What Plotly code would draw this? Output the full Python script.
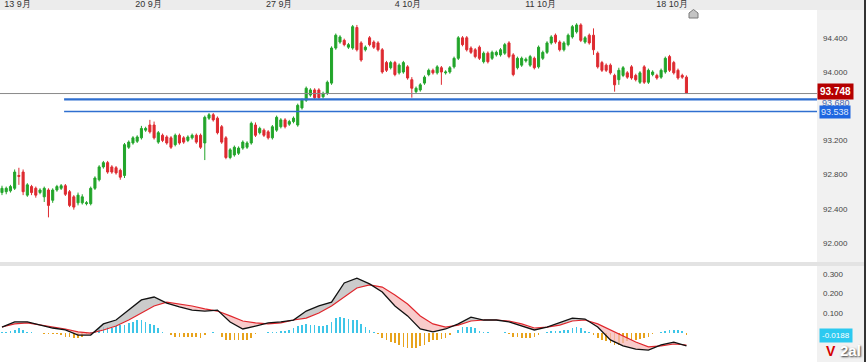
import plotly.graph_objects as go

# ---------------- data ----------------
OPEN = [92.59,92.60,92.61,92.64,92.79,92.83,92.56,92.66,92.64,92.59,92.54,92.62,92.50,92.62,92.64,92.67,92.60,92.54,92.47,92.47,
        92.46,92.46,92.64,92.74,92.89,92.94,92.89,92.88,92.85,92.79,93.12,93.17,93.19,93.23,93.32,93.38,93.38,93.18,93.26,93.24,
        93.23,93.15,93.26,93.23,93.20,93.23,93.26,93.26,93.17,93.46,93.50,93.46,93.36,93.23,93.00,93.03,93.05,93.11,93.12,93.17,
        93.38,93.29,93.32,93.30,93.23,93.32,93.36,93.44,93.39,93.42,93.38,93.58,93.67,93.73,93.79,93.79,93.71,93.75,93.87,94.28,
        94.35,94.37,94.29,94.28,94.52,94.34,94.26,94.40,94.35,94.34,94.26,94.11,94.05,94.11,93.99,94.00,94.06,93.91,93.77,93.79,
        93.87,93.97,94.02,93.99,94.05,93.99,94.00,94.06,94.16,94.40,94.40,94.28,94.26,94.29,94.12,94.22,94.16,94.20,94.20,94.22,
        94.34,94.20,94.05,94.08,94.13,94.08,94.16,94.06,94.16,94.23,94.34,94.43,94.35,94.26,94.32,94.41,94.47,94.55,94.35,94.43,
        94.43,94.22,94.11,94.08,94.08,93.96,93.91,93.96,93.99,94.06,93.96,93.88,94.06,93.88,93.97,93.96,93.94,94.00,94.18,94.11,
        94.02,93.96,93.94]
HIGH = [92.67,92.66,92.68,92.86,92.88,92.86,92.70,92.68,92.66,92.64,92.66,92.64,92.64,92.68,92.69,92.69,92.62,92.56,92.59,92.57,
        92.49,92.66,92.78,92.91,92.96,92.96,92.91,92.90,92.87,93.17,93.20,93.25,93.26,93.37,93.36,93.44,93.42,93.31,93.28,93.26,
        93.25,93.28,93.28,93.25,93.26,93.28,93.28,93.28,93.49,93.52,93.52,93.48,93.38,93.25,93.11,93.14,93.13,93.20,93.19,93.42,
        93.41,93.36,93.34,93.32,93.38,93.49,93.46,93.46,93.44,93.48,93.63,93.69,93.83,93.81,93.81,93.81,93.77,93.90,94.30,94.45,
        94.43,94.39,94.34,94.55,94.55,94.36,94.31,94.42,94.37,94.36,94.28,94.13,94.13,94.13,94.10,94.13,94.08,93.94,93.83,93.87,
        93.96,94.04,94.04,94.08,94.07,94.02,94.07,94.18,94.42,94.42,94.42,94.30,94.28,94.31,94.24,94.24,94.25,94.25,94.28,94.34,
        94.36,94.22,94.18,94.18,94.17,94.20,94.18,94.31,94.25,94.36,94.43,94.45,94.37,94.36,94.45,94.55,94.57,94.57,94.42,94.45,
        94.51,94.24,94.13,94.10,94.10,93.98,94.05,94.07,94.01,94.08,93.98,94.01,94.08,94.04,94.02,93.98,94.04,94.18,94.20,94.13,
        94.04,93.98,93.96]
LOW = [92.56,92.57,92.59,92.62,92.68,92.56,92.54,92.56,92.53,92.57,92.48,92.30,92.47,92.60,92.62,92.55,92.42,92.39,92.44,92.45,
       92.44,92.44,92.62,92.72,92.87,92.81,92.81,92.80,92.74,92.76,93.10,93.15,93.17,93.21,93.30,93.28,93.21,93.16,93.18,93.15,
       93.10,93.13,93.15,93.16,93.18,93.21,93.16,93.10,92.97,93.44,93.42,93.27,93.16,92.98,92.98,93.01,93.03,93.09,93.10,93.15,
       93.24,93.27,93.24,93.21,93.21,93.30,93.34,93.34,93.37,93.40,93.36,93.56,93.65,93.71,93.68,93.68,93.69,93.73,93.85,94.26,
       94.33,94.30,94.27,94.26,94.24,94.12,94.24,94.30,94.27,94.24,93.98,94.00,94.03,93.95,93.97,93.98,93.91,93.70,93.75,93.77,
       93.85,93.95,93.97,93.97,93.85,93.97,93.98,94.04,94.14,94.30,94.24,94.21,94.16,94.14,94.10,94.10,94.14,94.18,94.18,94.20,
       94.16,93.95,94.03,94.06,94.11,94.06,94.03,94.04,94.14,94.21,94.32,94.33,94.24,94.24,94.30,94.39,94.45,94.35,94.33,94.32,
       94.20,94.04,94.00,94.00,93.97,93.77,93.85,93.94,93.92,93.91,93.89,93.86,93.86,93.86,93.95,93.91,93.92,93.98,94.00,93.97,
       93.91,93.92,93.748]
CLOSE = [92.64,92.64,92.66,92.83,92.78,92.60,92.68,92.59,92.56,92.62,92.64,92.44,92.62,92.66,92.67,92.57,92.44,92.42,92.56,92.54,
         92.47,92.64,92.76,92.89,92.94,92.83,92.83,92.82,92.77,93.15,93.18,93.23,93.24,93.34,93.34,93.30,93.23,93.29,93.20,93.17,
         93.12,93.26,93.17,93.18,93.24,93.26,93.18,93.12,93.47,93.50,93.44,93.29,93.18,93.00,93.09,93.12,93.11,93.18,93.17,93.40,
         93.26,93.34,93.26,93.23,93.36,93.47,93.44,93.36,93.42,93.46,93.61,93.67,93.81,93.79,93.70,93.70,93.75,93.88,94.28,94.43,
         94.41,94.32,94.32,94.53,94.26,94.14,94.29,94.32,94.29,94.26,94.00,94.02,94.11,93.97,94.08,94.11,93.93,93.81,93.81,93.85,
         93.94,94.02,93.99,94.06,94.00,94.00,94.05,94.16,94.40,94.32,94.26,94.23,94.18,94.16,94.22,94.12,94.23,94.23,94.26,94.32,
         94.18,93.97,94.16,94.16,94.15,94.18,94.05,94.29,94.23,94.34,94.41,94.35,94.26,94.34,94.43,94.53,94.55,94.37,94.40,94.34,
         94.26,94.06,94.02,94.02,93.99,93.85,94.02,94.05,93.94,93.93,93.91,93.99,93.88,94.02,94.00,93.93,94.02,94.16,94.02,93.99,
         93.93,93.94,93.748]

# MACD (black) and signal (red) lines, read every third bar
LINE_IDX = list(range(0, 163, 3))
MACD = [0.028,0.054,0.054,0.038,0.023,0.013,-0.013,-0.013,0.044,0.064,0.115,0.167,0.182,0.151,0.131,0.115,0.110,0.115,0.054,0.018,
        0.033,0.049,0.054,0.064,0.110,0.136,0.156,0.254,0.279,0.249,0.208,0.136,0.085,0.018,0.003,0.018,0.044,0.079,0.064,0.064,
        0.054,0.033,0.013,0.028,0.049,0.074,0.069,0.028,-0.038,-0.069,-0.085,-0.090,-0.064,-0.049,-0.069]
SIGNAL = [0.028,0.044,0.049,0.038,0.028,0.018,0.003,-0.003,0.013,0.033,0.064,0.100,0.136,0.156,0.146,0.136,0.121,0.110,0.085,0.059,
          0.049,0.044,0.049,0.064,0.074,0.100,0.136,0.182,0.228,0.244,0.233,0.192,0.146,0.085,0.044,0.028,0.038,0.059,0.064,0.064,
          0.059,0.044,0.023,0.028,0.038,0.059,0.064,0.044,0.013,-0.018,-0.049,-0.074,-0.069,-0.059,-0.064]
# histogram, one value per bar
HIST = [0.003,0.005,0.010,0.015,0.021,0.015,0.005,0.003,-0.005,-0.005,-0.008,-0.010,-0.010,-0.010,-0.015,-0.021,-0.021,-0.026,-0.026,-0.021,
        -0.010,0.003,0.010,0.021,0.026,0.026,0.021,0.031,0.036,0.041,0.051,0.056,0.062,0.062,0.056,0.046,0.036,0.021,0.005,-0.005,
        -0.015,-0.021,-0.021,-0.021,-0.021,-0.021,-0.021,-0.026,-0.015,-0.003,0.003,-0.003,-0.021,-0.036,-0.041,-0.041,-0.041,-0.041,-0.036,-0.026,
        -0.010,-0.003,-0.003,0.003,0.003,0.005,0.008,0.010,0.015,0.021,0.031,0.041,0.046,0.041,0.036,0.031,0.031,0.041,0.056,0.072,
        0.077,0.072,0.067,0.062,0.062,0.046,0.026,0.015,0.005,-0.010,-0.026,-0.041,-0.051,-0.056,-0.062,-0.072,-0.077,-0.082,-0.077,-0.067,
        -0.062,-0.051,-0.041,-0.036,-0.031,-0.026,-0.015,-0.005,0.015,0.026,0.026,0.026,0.021,0.010,0.003,0.003,-0.003,-0.003,-0.003,0.003,
        -0.010,-0.021,-0.021,-0.026,-0.026,-0.026,-0.021,-0.015,-0.005,0.005,0.010,0.010,0.010,0.015,0.015,0.021,0.026,0.021,0.010,0.003,
        -0.015,-0.026,-0.036,-0.046,-0.056,-0.062,-0.062,-0.056,-0.046,-0.041,-0.036,-0.031,-0.026,-0.021,-0.010,-0.003,0.003,0.010,0.015,0.015,
        0.015,0.010,-0.015]

TICK_POS = [3.7, 34.7, 65.6, 96.1, 127.5, 158.6]
TICK_LABELS = ["13 9月", "20 9月", "27 9月", "4 10月", "11 10月", "18 10月"]
PRICE_TICKS = [92.0, 92.4, 92.8, 93.2, 94.0, 94.4]
PRICE_TICK_TEXT = ["92.000", "92.400", "92.800", "93.200", "94.000", "94.400"]
MACD_TICKS = [0.1, 0.2, 0.3]
MACD_TICK_TEXT = ["0.100", "0.200", "0.300"]
LAST_PRICE = 93.748
LEVEL_1 = 93.680
LEVEL_2 = 93.538
LEVEL_START = 14.7
HIST_LAST_TEXT = "-0.0188"

# ---------------- figure ----------------
W, H = 866, 362
XR = [-0.47, 192.9]
XDOM = [0, 817 / W]
PDOM = [100 / H, 352 / H]
MDOM = [0, 96 / H]

idx = list(range(len(CLOSE)))
fig = go.Figure()

fig.add_trace(go.Candlestick(
    x=idx, open=OPEN, high=HIGH, low=LOW, close=CLOSE,
    increasing=dict(line=dict(color="#22a52a", width=1), fillcolor="#22a52a"),
    decreasing=dict(line=dict(color="#de2a30", width=1), fillcolor="#de2a30"),
    whiskerwidth=0, xaxis="x", yaxis="y", showlegend=False, hoverinfo="skip"))

# fills between MACD and signal
def runs(xs, m, s):
    out = []
    sign = (m[0] - s[0]) >= 0
    top = [(xs[0], m[0])]
    bot = [(xs[0], s[0])]
    for j in range(len(xs) - 1):
        d0 = m[j] - s[j]
        d1 = m[j + 1] - s[j + 1]
        if ((d0 >= 0) != (d1 >= 0)) and d0 != d1:
            t = d0 / (d0 - d1)
            xc = xs[j] + t * (xs[j + 1] - xs[j])
            yc = m[j] + t * (m[j + 1] - m[j])
            top.append((xc, yc)); bot.append((xc, yc))
            out.append((sign, top, bot))
            sign = d1 >= 0
            top = [(xc, yc)]; bot = [(xc, yc)]
        top.append((xs[j + 1], m[j + 1])); bot.append((xs[j + 1], s[j + 1]))
    out.append((sign, top, bot))
    return out

gx, gy, px, py = [], [], [], []
for sgn, top, bot in runs(LINE_IDX, MACD, SIGNAL):
    poly = top + bot[::-1]
    tx = [p[0] for p in poly] + [None]
    ty = [p[1] for p in poly] + [None]
    if sgn:
        gx += tx; gy += ty
    else:
        px += tx; py += ty

fig.add_trace(go.Scatter(x=gx, y=gy, fill="toself", fillcolor="rgba(185,185,185,0.75)",
                         line=dict(width=0), mode="lines", xaxis="x2", yaxis="y2",
                         showlegend=False, hoverinfo="skip"))
fig.add_trace(go.Scatter(x=px, y=py, fill="toself", fillcolor="rgba(245,185,185,0.75)",
                         line=dict(width=0), mode="lines", xaxis="x2", yaxis="y2",
                         showlegend=False, hoverinfo="skip"))

fig.add_trace(go.Bar(x=idx, y=HIST, width=0.4,
                     marker=dict(color=["#3ec6e8" if v >= 0 else "#e8a31c" for v in HIST], line=dict(width=0)),
                     xaxis="x2", yaxis="y2", showlegend=False, hoverinfo="skip"))

fig.add_trace(go.Scatter(x=LINE_IDX, y=SIGNAL, mode="lines", line=dict(color="#e0262c", width=1.2),
                         xaxis="x2", yaxis="y2", showlegend=False, hoverinfo="skip"))
fig.add_trace(go.Scatter(x=LINE_IDX, y=MACD, mode="lines", line=dict(color="#111111", width=1.3),
                         xaxis="x2", yaxis="y2", showlegend=False, hoverinfo="skip"))

tickfont = dict(family="Liberation Sans, Arial, sans-serif", size=8, color="#444")
datefont = dict(family="Liberation Sans, Arial, sans-serif", size=9, color="#333")

fig.update_layout(
    width=W, height=H, margin=dict(l=0, r=0, t=0, b=0),
    paper_bgcolor="white", plot_bgcolor="white",
    xaxis=dict(domain=XDOM, range=XR, side="top", anchor="y", showgrid=False, zeroline=False,
               showline=False, tickmode="array", tickvals=TICK_POS, ticktext=TICK_LABELS,
               ticks="", tickfont=datefont, ticklabelstandoff=0, rangeslider=dict(visible=False),
               fixedrange=True),
    yaxis=dict(domain=PDOM, range=[91.778, 94.725], side="right", anchor="x", showgrid=False,
               zeroline=False, showline=False, tickmode="array", tickvals=PRICE_TICKS,
               ticktext=PRICE_TICK_TEXT, ticks="", tickfont=tickfont, ticklabelstandoff=5),
    xaxis2=dict(domain=XDOM, range=XR, anchor="y2", showgrid=False, zeroline=False,
                showline=False, showticklabels=False, ticks=""),
    yaxis2=dict(domain=MDOM, range=[-0.1513, 0.341], side="right", anchor="x2", showgrid=False,
                zeroline=False, showline=False, tickmode="array", tickvals=MACD_TICKS,
                ticktext=MACD_TICK_TEXT, ticks="", tickfont=tickfont, ticklabelstandoff=5),
    bargap=0,
)

shapes = [
    dict(type="rect", xref="paper", yref="paper", x0=0, x1=1, y0=PDOM[1], y1=1,
         fillcolor="#ececec", line=dict(width=0), layer="below"),
    dict(type="rect", xref="paper", yref="paper", x0=XDOM[1], x1=1, y0=0, y1=PDOM[1],
         fillcolor="#f1f1f1", line=dict(width=0), layer="below"),
    dict(type="rect", xref="paper", yref="paper", x0=0, x1=1, y0=MDOM[1], y1=PDOM[0],
         fillcolor="#e3e3e3", line=dict(width=0), layer="below"),
    dict(type="line", xref="paper", yref="paper", x0=865 / W, x1=865 / W, y0=0, y1=1,
         line=dict(color="#333", width=2)),
    dict(type="line", xref="x", yref="y", x0=XR[0], x1=XR[1], y0=LAST_PRICE, y1=LAST_PRICE,
         line=dict(color="#8a8a8a", width=1)),
    dict(type="line", xref="x", yref="y", x0=LEVEL_START, x1=XR[1], y0=LEVEL_1, y1=LEVEL_1,
         line=dict(color="#2f6fd0", width=2.2)),
    dict(type="line", xref="x", yref="y", x0=LEVEL_START, x1=XR[1], y0=LEVEL_2, y1=LEVEL_2,
         line=dict(color="#2f6fd0", width=1.5)),
    dict(type="path", xref="paper", yref="paper",
         path=f"M {689/W} {1-18/H} L {698/W} {1-18/H} L {698/W} {1-13/H} L {693.5/W} {1-9.5/H} L {689/W} {1-13/H} Z",
         fillcolor="#c4c4c4", line=dict(color="#7a7a7a", width=1)),
]
fig.update_layout(shapes=shapes)

lab = dict(family="Liberation Sans, Arial, sans-serif", size=9)
fig.add_annotation(xref="paper", yref="y", x=XDOM[1] + 3 / W, y=LEVEL_1 - 0.04, xanchor="left", yanchor="middle",
                   text="93.680", showarrow=False, font=dict(lab, color="#4a68b0"))
fig.add_annotation(xref="paper", yref="y", x=XDOM[1], y=LAST_PRICE + 0.02, xanchor="left", yanchor="middle",
                   text="<b>93.748</b>", showarrow=False, bgcolor="#b50000", borderpad=2,
                   font=dict(lab, size=10, color="white"))
fig.add_annotation(xref="paper", yref="y", x=XDOM[1] + 2 / W, y=LEVEL_2, xanchor="left", yanchor="middle",
                   text="93.538", showarrow=False, bgcolor="#1f66e0", borderpad=1,
                   font=dict(lab, color="#dfe9ff"))
fig.add_annotation(xref="paper", yref="y2", x=XDOM[1] + 2 / W, y=HIST[-1], xanchor="left", yanchor="middle",
                   text=HIST_LAST_TEXT, showarrow=False, bgcolor="#2cc9f0", borderpad=2,
                   font=dict(lab, size=8, color="white"))
fig.add_annotation(xref="paper", yref="paper", x=1 - 3 / W, y=1 / H, xanchor="right", yanchor="bottom",
                   text="<b>2al</b>", showarrow=False,
                   font=dict(family="Liberation Sans, Arial", size=15, color="white", shadow="1px 1px 2px #333"))
fig.add_annotation(xref="paper", yref="paper", x=1 - 28 / W, y=1 / H, xanchor="right", yanchor="bottom",
                   text="<b>V</b>", showarrow=False,
                   font=dict(family="Liberation Sans, Arial", size=14, color="#d40000"))

fig.write_html("out.html", config={"displayModeBar": False, "staticPlot": True},
               post_script="document.body.style.margin='0';document.body.style.overflow='hidden';")
